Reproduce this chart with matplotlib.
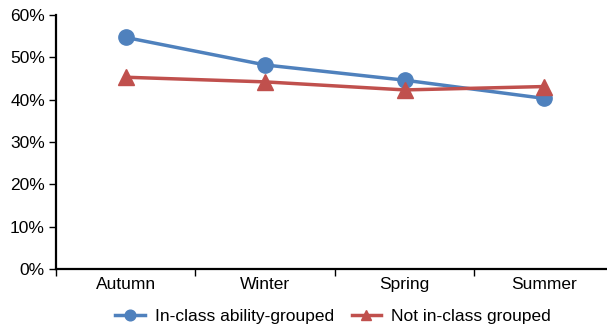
import matplotlib.pyplot as plt
import numpy as np
from matplotlib.ticker import FixedLocator, PercentFormatter

plt.rcParams["font.family"] = ["Liberation Sans", "DejaVu Sans"]

seasons = ["Autumn", "Winter", "Spring", "Summer"]
ability_grouped = [54.7, 48.2, 44.6, 40.3]
not_grouped = [45.3, 44.2, 42.3, 43.1]

fig = plt.figure(figsize=(6.07, 3.28), dpi=100)
ax = fig.add_axes([56 / 607, 1 - 269 / 328, 551 / 607, 254 / 328])

x = np.arange(len(seasons))
ax.plot(x, ability_grouped, color="#4F81BD", lw=2.5, marker="o", ms=11,
        label="In-class ability-grouped", clip_on=False)
ax.plot(x, not_grouped, color="#C0504D", lw=2.5, marker="^", ms=11,
        label="Not in-class grouped", clip_on=False)

ax.set_ylim(0, 60)
ax.set_xlim(-0.5, 3.45)
ax.yaxis.set_major_formatter(PercentFormatter(decimals=0))
ax.set_yticks(np.arange(0, 61, 10))

# category labels centred, ticks at boundaries
ax.set_xticks(x)
ax.set_xticklabels(seasons)
ax.tick_params(axis="x", which="major", length=0, pad=6)
ax.xaxis.set_minor_locator(FixedLocator([-0.5, 0.5, 1.5, 2.5]))
ax.tick_params(axis="x", which="minor", length=5, width=1)
ax.tick_params(axis="y", length=5, width=1, pad=3)
ax.tick_params(labelsize=12.5)

for s in ["top", "right"]:
    ax.spines[s].set_visible(False)
for s in ["left", "bottom"]:
    ax.spines[s].set_linewidth(1.6)

ax.legend(loc="upper center", bbox_to_anchor=(0.5 + 0.003, -0.095), ncol=2,
          frameon=False, fontsize=12.5, handlelength=1.7, columnspacing=1.0,
          handletextpad=0.6, markerscale=0.7)

fig.savefig("out.png", dpi=100)
